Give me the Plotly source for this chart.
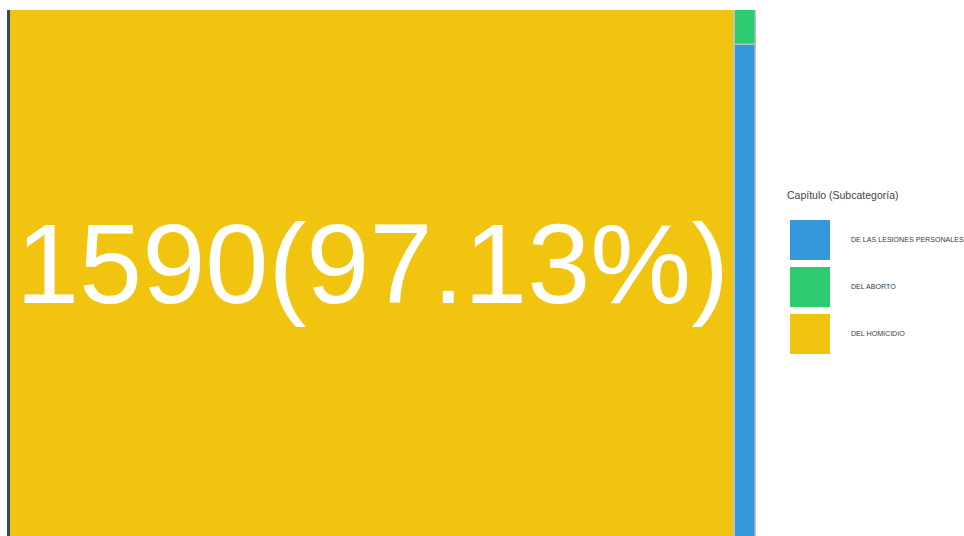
import plotly.graph_objects as go

# Data: cases per chapter (subcategory)
categories = ["DEL HOMICIDIO", "DE LAS LESIONES PERSONALES", "DEL ABORTO"]
values = [1590, 44, 3]
colors = ["#f1c40f", "#3498db", "#2ecc71"]
legend_order = ["DE LAS LESIONES PERSONALES", "DEL ABORTO", "DEL HOMICIDIO"]

total = sum(values)
color_of = dict(zip(categories, colors))

fig = go.Figure()

# Treemap-style mosaic: the largest block fills its own column,
# the remaining categories share the second column, stacked upward.
main_w = values[0]
rest = values[1:]
rest_total = sum(rest)

fig.add_trace(go.Bar(
    x=[main_w / 2], y=[1], base=[0], width=[main_w],
    marker=dict(color=colors[0], line=dict(color="#bdc3c7", width=1.5)),
    showlegend=False, hoverinfo="skip",
))

base = 0.0
for name, v, c in zip(categories[1:], rest, colors[1:]):
    h = v / rest_total
    fig.add_trace(go.Bar(
        x=[main_w + rest_total / 2], y=[h], base=[base], width=[rest_total],
        marker=dict(color=c, line=dict(color="#bdc3c7", width=1.5)),
        showlegend=False, hoverinfo="skip",
    ))
    base += h

font_family = "Liberation Sans, Arial, sans-serif"

# Value label for the dominant block
annotations = [dict(
    x=main_w / 2, y=0.5, xref="x", yref="y", yshift=18,
    text=f"{values[0]}({values[0] / total * 100:.2f}%)",
    showarrow=False, xanchor="center", yanchor="middle",
    font=dict(family=font_family, size=113.5, color="white"),
)]

# Hand-drawn legend with large swatches
shapes = []
annotations.append(dict(
    text="Capítulo (Subcategoría)", xref="paper", yref="paper",
    x=1.0389, y=0.6483, xanchor="left", yanchor="middle", showarrow=False,
    font=dict(family=font_family, size=10.5, color="#444"),
))
for i, name in enumerate(legend_order):
    yc = 0.5627 - i * 0.0894
    shapes.append(dict(
        type="rect", xref="paper", yref="paper",
        x0=1.0456, x1=1.0992, y0=yc - 0.038, y1=yc + 0.038,
        fillcolor=color_of[name], line=dict(width=0), layer="above",
    ))
    annotations.append(dict(
        text=name, xref="paper", yref="paper", x=1.1247, y=yc,
        xanchor="left", yanchor="middle", showarrow=False,
        font=dict(family=font_family, size=7.1, color="#2c3e50"),
    ))

fig.update_layout(
    barmode="overlay",
    bargap=0,
    margin=dict(l=10, r=208, t=10, b=0),
    plot_bgcolor="white",
    paper_bgcolor="white",
    xaxis=dict(range=[0, total], visible=False, fixedrange=True),
    yaxis=dict(range=[0.03, 1], showgrid=False, zeroline=False, showticklabels=False,
               showline=True, linecolor="#34495e", linewidth=3, fixedrange=True),
    shapes=shapes,
    annotations=annotations,
    showlegend=False,
)

fig.write_html("out.html")
